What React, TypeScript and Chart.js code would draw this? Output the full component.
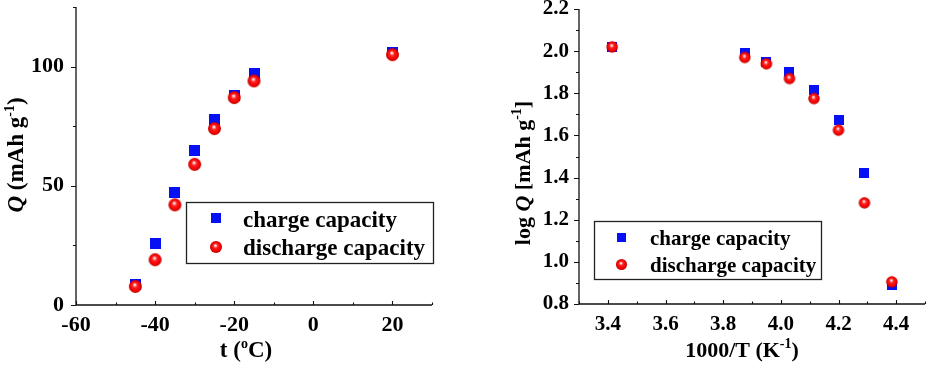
import React, { useEffect, useRef } from 'react';
import { Chart, registerables } from 'chart.js';

Chart.register(...registerables);

// Capacity vs. temperature (left panel)
const temperatureC = [-45, -40, -35, -30, -25, -20, -15, 20];
const chargeQ = [8.5, 26, 47, 65, 78, 88, 97, 106];
const dischargeQ = [7.8, 19, 42, 59, 74, 87, 94, 105];

// log capacity vs. reciprocal temperature (right panel)
const inverseT = [4.385, 4.29, 4.2, 4.115, 4.03, 3.95, 3.875, 3.415];
const chargeLogQ = [0.89, 1.42, 1.675, 1.815, 1.9, 1.948, 1.99, 2.022];
const dischargeLogQ = [0.905, 1.28, 1.625, 1.775, 1.87, 1.94, 1.97, 2.02];

// Axis ticks
const tempTicks = [-60, -40, -20, 0, 20];
const tempMinorTicks = [-50, -30, -10, 10, 30];
const qTicks = [0, 50, 100];
const qMinorTicks = [25, 75, 125];
const invTTicks = [3.4, 3.6, 3.8, 4.0, 4.2, 4.4];
const invTMinorTicks = [3.3, 3.5, 3.7, 3.9, 4.1, 4.3, 4.5];
const logQTicks = [0.8, 1.0, 1.2, 1.4, 1.6, 1.8, 2.0, 2.2];
const logQMinorTicks = [0.9, 1.1, 1.3, 1.5, 1.7, 1.9, 2.1];

const seriesNames = ['charge capacity', 'discharge capacity'];

const FAMILY = 'Liberation Serif';
const FONT = `"${FAMILY}"`;
const BLUE = '#0510f5';

Chart.defaults.font.family = FAMILY;
Chart.defaults.font.weight = 'bold';
Chart.defaults.color = '#000';

type Run = { text: string; italic?: boolean; sup?: boolean };

function squareMarker(size: number): HTMLCanvasElement {
  const c = document.createElement('canvas');
  c.width = size;
  c.height = size;
  const g = c.getContext('2d')!;
  g.fillStyle = BLUE;
  g.fillRect(0, 0, size, size);
  return c;
}

function sphereMarker(d: number): HTMLCanvasElement {
  const c = document.createElement('canvas');
  const s = Math.ceil(d) + 2;
  c.width = s;
  c.height = s;
  const g = c.getContext('2d')!;
  const r = d / 2;
  const cx = s / 2;
  const grad = g.createRadialGradient(cx - r * 0.12, cx - r * 0.3, 0, cx, cx, r);
  grad.addColorStop(0, '#ffffff');
  grad.addColorStop(0.14, '#ffc8c8');
  grad.addColorStop(0.38, '#ff2020');
  grad.addColorStop(0.8, '#f00000');
  grad.addColorStop(1, '#b80000');
  g.beginPath();
  g.arc(cx, cx, r, 0, Math.PI * 2);
  g.fillStyle = grad;
  g.fill();
  return c;
}

function runFont(r: Run, size: number) {
  const px = r.sup ? Math.round(size * 0.62) : size;
  return `${r.italic ? 'italic ' : ''}bold ${px}px ${FONT}`;
}

// Draws a multi-style text line centred on (x, y) at its baseline, optionally rotated.
function drawRuns(ctx: CanvasRenderingContext2D, runs: Run[], size: number, x: number, y: number, rotate: boolean) {
  ctx.save();
  ctx.translate(x, y);
  if (rotate) ctx.rotate(-Math.PI / 2);
  ctx.textAlign = 'left';
  ctx.textBaseline = 'alphabetic';
  ctx.fillStyle = '#000';
  const widths = runs.map((r) => {
    ctx.font = runFont(r, size);
    return ctx.measureText(r.text).width;
  });
  const total = widths.reduce((a, b) => a + b, 0);
  let cx = -total / 2;
  runs.forEach((r, i) => {
    ctx.font = runFont(r, size);
    ctx.fillText(r.text, cx, r.sup ? -size * 0.4 : 0);
    cx += widths[i];
  });
  ctx.restore();
}

interface PanelSpec {
  xs: number[];
  charge: number[];
  discharge: number[];
  xMin: number;
  xMax: number;
  yMin: number;
  yMax: number;
  xMajor: number[];
  xMinor: number[];
  yMajor: number[];
  yMinor: number[];
  xFmt: (v: number) => string;
  yFmt: (v: number) => string;
  padding: { left: number; right: number; top: number; bottom: number };
  yWidth: number;
  xHeight: number;
  xTickPad: number;
  yTickPad: number;
  tickSize: number;
  squareSize: number;
  sphereSize: number;
  legend: {
    x: number;
    y: number;
    w: number;
    h: number;
    markerX: number;
    rowY: number[];
    textX: number;
    baselines: number[];
    fontSize: number;
    squareSize: number;
    sphereSize: number;
  };
  xTitle: { runs: Run[]; x: number; y: number; size: number };
  yTitle: { runs: Run[]; x: number; y: number; size: number };
}

function buildChart(canvas: HTMLCanvasElement, spec: PanelSpec): Chart {
  const squareImg = squareMarker(spec.squareSize);
  const sphereImg = sphereMarker(spec.sphereSize);
  const legendSquare = squareMarker(spec.legend.squareSize);
  const legendSphere = sphereMarker(spec.legend.sphereSize);

  const axesPlugin = {
    id: 'axesFrame',
    afterDraw(chart: any) {
      const { ctx, chartArea } = chart;
      const xs = chart.scales.x;
      const ys = chart.scales.y;
      ctx.save();
      ctx.strokeStyle = '#111';
      ctx.lineWidth = 1.3;
      ctx.beginPath();
      ctx.moveTo(chartArea.left, chartArea.top);
      ctx.lineTo(chartArea.left, chartArea.bottom);
      ctx.lineTo(chartArea.right, chartArea.bottom);
      ctx.stroke();
      ctx.lineWidth = 1.1;
      ctx.beginPath();
      spec.xMajor.forEach((v) => {
        const px = Math.round(xs.getPixelForValue(v)) + 0.5;
        ctx.moveTo(px, chartArea.bottom);
        ctx.lineTo(px, chartArea.bottom - 4);
      });
      spec.xMinor.forEach((v) => {
        const px = Math.round(xs.getPixelForValue(v)) + 0.5;
        ctx.moveTo(px, chartArea.bottom);
        ctx.lineTo(px, chartArea.bottom - 2.5);
      });
      spec.yMajor.forEach((v) => {
        const py = Math.round(ys.getPixelForValue(v)) + 0.5;
        ctx.moveTo(chartArea.left, py);
        ctx.lineTo(chartArea.left - 5, py);
      });
      spec.yMinor.forEach((v) => {
        const py = Math.round(ys.getPixelForValue(v)) + 0.5;
        ctx.moveTo(chartArea.left, py);
        ctx.lineTo(chartArea.left - 3, py);
      });
      ctx.stroke();
      ctx.restore();

      drawRuns(ctx, spec.xTitle.runs, spec.xTitle.size, spec.xTitle.x, spec.xTitle.y, false);
      drawRuns(ctx, spec.yTitle.runs, spec.yTitle.size, spec.yTitle.x, spec.yTitle.y, true);

      const L = spec.legend;
      ctx.save();
      ctx.fillStyle = '#fff';
      ctx.fillRect(L.x, L.y, L.w, L.h);
      ctx.strokeStyle = '#222';
      ctx.lineWidth = 1.3;
      ctx.strokeRect(L.x + 0.5, L.y + 0.5, L.w, L.h);
      const imgs = [legendSquare, legendSphere];
      imgs.forEach((img, i) => {
        ctx.drawImage(img, Math.round(L.markerX - img.width / 2), Math.round(L.rowY[i] - img.height / 2));
      });
      ctx.fillStyle = '#000';
      ctx.textAlign = 'left';
      ctx.textBaseline = 'alphabetic';
      ctx.font = `bold ${L.fontSize}px ${FONT}`;
      seriesNames.forEach((name, i) => ctx.fillText(name, L.textX, L.baselines[i]));
      ctx.restore();
    },
  };

  const tickFont = { family: FAMILY, size: spec.tickSize, weight: 'bold' as const, style: 'normal' as const };

  return new Chart(canvas, {
    type: 'scatter',
    data: {
      datasets: [
        {
          label: seriesNames[0],
          data: spec.xs.map((x, i) => ({ x, y: spec.charge[i] })),
          pointStyle: squareImg as any,
          pointRadius: 6,
          order: 1,
        },
        {
          label: seriesNames[1],
          data: spec.xs.map((x, i) => ({ x, y: spec.discharge[i] })),
          pointStyle: sphereImg as any,
          pointRadius: 6,
          order: 0,
        },
      ],
    },
    options: {
      responsive: false,
      animation: false,
      events: [],
      layout: { padding: spec.padding },
      plugins: { legend: { display: false }, tooltip: { enabled: false } },
      scales: {
        x: {
          type: 'linear',
          min: spec.xMin,
          max: spec.xMax,
          grid: { display: false, drawTicks: false },
          border: { display: false },
          afterBuildTicks: (s: any) => {
            s.ticks = spec.xMajor.map((value) => ({ value }));
          },
          afterFit: (s: any) => {
            s.height = spec.xHeight;
            s.paddingLeft = 0;
            s.paddingRight = 0;
            s.paddingTop = 0;
            s.paddingBottom = 0;
          },
          ticks: {
            padding: spec.xTickPad,
            font: tickFont,
            color: '#000',
            maxRotation: 0,
            autoSkip: false,
            callback: (v: any) => spec.xFmt(Number(v)),
          },
        },
        y: {
          type: 'linear',
          min: spec.yMin,
          max: spec.yMax,
          grid: { display: false, drawTicks: false },
          border: { display: false },
          afterBuildTicks: (s: any) => {
            s.ticks = spec.yMajor.map((value) => ({ value }));
          },
          afterFit: (s: any) => {
            s.width = spec.yWidth;
            s.paddingLeft = 0;
            s.paddingRight = 0;
            s.paddingTop = 0;
            s.paddingBottom = 0;
          },
          ticks: {
            padding: spec.yTickPad,
            font: tickFont,
            color: '#000',
            autoSkip: false,
            callback: (v: any) => spec.yFmt(Number(v)),
          },
        },
      },
    },
    plugins: [axesPlugin],
  });
}

const leftSpec: PanelSpec = {
  xs: temperatureC,
  charge: chargeQ,
  discharge: dischargeQ,
  xMin: -60,
  xMax: 30,
  yMin: 0,
  yMax: 125,
  xMajor: tempTicks,
  xMinor: tempMinorTicks,
  yMajor: qTicks,
  yMinor: qMinorTicks,
  xFmt: (v) => String(Math.round(v)),
  yFmt: (v) => String(Math.round(v)),
  padding: { left: 0, right: 34, top: 5, bottom: 0 },
  yWidth: 76,
  xHeight: 81,
  xTickPad: 7,
  yTickPad: 12,
  tickSize: 22,
  squareSize: 11,
  sphereSize: 13,
  legend: {
    x: 186,
    y: 202,
    w: 247,
    h: 61,
    markerX: 216,
    rowY: [218, 247],
    textX: 243,
    baselines: [227, 255],
    fontSize: 23,
    squareSize: 10,
    sphereSize: 12,
  },
  xTitle: { runs: [{ text: 't (' }, { text: 'o', sup: true }, { text: 'C)' }], x: 246, y: 357, size: 23 },
  yTitle: {
    runs: [{ text: 'Q', italic: true }, { text: ' (mAh g' }, { text: '-1', sup: true }, { text: ')' }],
    x: 23,
    y: 155,
    size: 23,
  },
};

const rightSpec: PanelSpec = {
  xs: inverseT,
  charge: chargeLogQ,
  discharge: dischargeLogQ,
  xMin: 3.3,
  xMax: 4.5,
  yMin: 0.8,
  yMax: 2.2,
  xMajor: invTTicks,
  xMinor: invTMinorTicks,
  yMajor: logQTicks,
  yMinor: logQMinorTicks,
  xFmt: (v) => v.toFixed(1),
  yFmt: (v) => v.toFixed(1),
  padding: { left: 0, right: 5, top: 9, bottom: 0 },
  yWidth: 113,
  xHeight: 82,
  xTickPad: 8,
  yTickPad: 10,
  tickSize: 21,
  squareSize: 10,
  sphereSize: 11.5,
  legend: {
    x: 128,
    y: 221,
    w: 227,
    h: 58,
    markerX: 155,
    rowY: [237, 264],
    textX: 184,
    baselines: [245, 272],
    fontSize: 21,
    squareSize: 9,
    sphereSize: 11,
  },
  xTitle: { runs: [{ text: '1000/T (K' }, { text: '-1', sup: true }, { text: ')' }], x: 276, y: 357, size: 22 },
  yTitle: {
    runs: [
      { text: 'log ' },
      { text: 'Q', italic: true },
      { text: ' [mAh g' },
      { text: '-1', sup: true },
      { text: ']' },
    ],
    x: 64,
    y: 173,
    size: 22,
  },
};

export default function App() {
  const leftRef = useRef<HTMLCanvasElement>(null);
  const rightRef = useRef<HTMLCanvasElement>(null);

  useEffect(() => {
    const charts: Chart[] = [];
    if (leftRef.current) charts.push(buildChart(leftRef.current, leftSpec));
    if (rightRef.current) charts.push(buildChart(rightRef.current, rightSpec));
    return () => charts.forEach((c) => c.destroy());
  }, []);

  return (
    <div style={{ position: 'fixed', left: 0, top: 0, width: 932, height: 386, background: '#fff' }}>
      <canvas
        ref={leftRef}
        width={466}
        height={386}
        style={{ position: 'absolute', left: 0, top: 0, width: 466, height: 386 }}
      />
      <canvas
        ref={rightRef}
        width={466}
        height={386}
        style={{ position: 'absolute', left: 466, top: 0, width: 466, height: 386 }}
      />
    </div>
  );
}
